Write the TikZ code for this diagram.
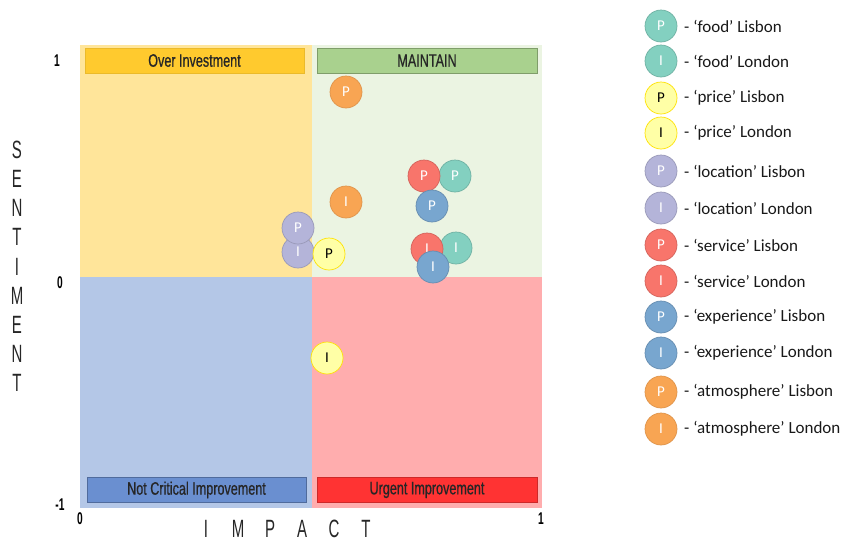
\documentclass[tikz,border=0pt]{standalone}
\usepackage{fontspec}
\setmainfont{Carlito}
\newfontfamily\carl{Carlito}
\newfontfamily\agency[FakeStretch=0.7,FakeBold=0.6]{Liberation Sans}
\newfontfamily\agencyn[FakeStretch=0.6]{Liberation Sans}
\definecolor{qtl}{HTML}{FFE59A}
\definecolor{qtr}{HTML}{EBF4E2}
\definecolor{qbl}{HTML}{B4C7E7}
\definecolor{qbr}{HTML}{FFADAE}
\definecolor{lovr}{HTML}{FFCA2E}
\definecolor{lmnt}{HTML}{A9D18E}
\definecolor{lnci}{HTML}{6A8FD0}
\definecolor{lurg}{HTML}{FF3333}
\definecolor{cfood}{HTML}{83D0C0}
\definecolor{cprice}{HTML}{FFFFA6}
\definecolor{cloc}{HTML}{B4B4D9}
\definecolor{cserv}{HTML}{F8756B}
\definecolor{cexp}{HTML}{78A6CF}
\definecolor{catm}{HTML}{F8A553}
\tikzset{
  quad/.style={rectangle, anchor=north west, inner sep=0, minimum width=232pt, minimum height=231.5pt},
  qlabel/.style={rectangle, inner sep=0, minimum width=219pt, minimum height=25pt, line width=0.7pt, font=\agency\fontsize{18}{18}\selectfont, text=black!85},
  bub/.style={circle, minimum size=32pt, inner sep=0, line width=0.7pt, font=\carl\fontsize{15}{15}\selectfont, text=white},
  food/.style={bub, fill=cfood, draw=cfood!85!black},
  price/.style={bub, fill=cprice, draw=yellow!85!orange, text=black},
  loc/.style={bub, fill=cloc, draw=cloc!85!black},
  serv/.style={bub, fill=cserv, draw=cserv!85!black},
  expc/.style={bub, fill=cexp, draw=cexp!85!black},
  atm/.style={bub, fill=catm, draw=catm!90!black},
  legtxt/.style={anchor=west, inner sep=0, font=\carl\fontsize{17}{17}\selectfont, text=black!90},
  axnum/.style={inner sep=0, font=\agencyn\bfseries\fontsize{17}{17}\selectfont},
  axlet/.style={inner sep=0, font=\agencyn\fontsize{25}{25}\selectfont, text=black!85},
}
\begin{document}
\begin{tikzpicture}[x=1pt,y=-1pt]
\useasboundingbox (0,0) rectangle (854,542);
\fill[white] (0,0) rectangle (854,542);
% quadrants
\node[quad, fill=qtl] (qtl) at (80,45) {};
\node[quad, fill=qtr, minimum width=230pt] (qtr) at (312,45) {};
\node[quad, fill=qbl] (qbl) at (80,276.5) {};
\node[quad, fill=qbr, minimum width=230pt] (qbr) at (312,276.5) {};
% quadrant labels
\node[qlabel, fill=lovr, draw=lovr!92!black] (lovr) at (194.5,60.5) {Over Investment};
\node[qlabel, fill=lmnt, draw=lmnt!75!black, minimum width=220pt] (lmnt) at (427,60.5) {MAINTAIN};
\node[qlabel, fill=lnci, draw=lnci!75!black] (lnci) at (196.5,490) {Not Critical Improvement};
\node[qlabel, fill=lurg, draw=lurg!80!black, minimum width=220pt] (lurg) at (427,490) {Urgent Improvement};
% axis numbers
\node[axnum] (y1) at (57,61) {1};
\node[axnum] (y0) at (60,283) {0};
\node[axnum] (ym1) at (60,505) {-1};
\node[axnum] (x0) at (80,519) {0};
\node[axnum] (x1) at (541,519) {1};
% axis titles
\foreach \l [count=\i] in {I,M,P,A,C,T} {
  \node[axlet] (imp\i) at ({206+(\i-1)*32},529) {\l};
}
\foreach \l [count=\i] in {S,E,N,T,I,M,E,N,T} {
  \node[axlet] (sen\i) at (17,{150+(\i-1)*29.1}) {\l};
}
% bubbles
\node[food] (foodP) at (455,176) {P};
\node[food] (foodI) at (456,248) {I};
\node[serv] (servP) at (424,176) {P};
\node[serv] (servI) at (427,249) {I};
\node[expc] (expP) at (432,206) {P};
\node[expc] (expI) at (433,267) {I};
\node[atm] (atmP) at (346,92) {P};
\node[atm] (atmI) at (346,202) {I};
\node[loc] (locI) at (298,252) {I};
\node[loc] (locP) at (298,228) {P};
\node[price] (priceP) at (329,254) {P};
\node[price] (priceI) at (327,358) {I};
% legend
\node[food] (lg1) at (661,26) {P};
\node[food] (lg2) at (661,61) {I};
\node[price] (lg3) at (661,98) {P};
\node[price] (lg4) at (661,133) {I};
\node[loc] (lg5) at (661,171) {P};
\node[loc] (lg6) at (661,208) {I};
\node[serv] (lg7) at (661,245) {P};
\node[serv] (lg8) at (661,281) {I};
\node[expc] (lg9) at (661,317) {P};
\node[expc] (lg10) at (661,353) {I};
\node[atm] (lg11) at (661,392) {P};
\node[atm] (lg12) at (661,429) {I};
\node[legtxt] (t1) at (684,26) {- ‘food’ Lisbon};
\node[legtxt] (t2) at (684,61) {- ‘food’ London};
\node[legtxt] (t3) at (684,98) {- ‘price’ Lisbon};
\node[legtxt] (t4) at (684,133) {- ‘price’ London};
\node[legtxt] (t5) at (684,171) {- ‘location’ Lisbon};
\node[legtxt] (t6) at (684,208) {- ‘location’ London};
\node[legtxt] (t7) at (684,245) {- ‘service’ Lisbon};
\node[legtxt] (t8) at (684,281) {- ‘service’ London};
\node[legtxt] (t9) at (684,317) {- ‘experience’ Lisbon};
\node[legtxt] (t10) at (684,353) {- ‘experience’ London};
\node[legtxt] (t11) at (684,392) {- ‘atmosphere’ Lisbon};
\node[legtxt] (t12) at (684,429) {- ‘atmosphere’ London};
\end{tikzpicture}
\end{document}
